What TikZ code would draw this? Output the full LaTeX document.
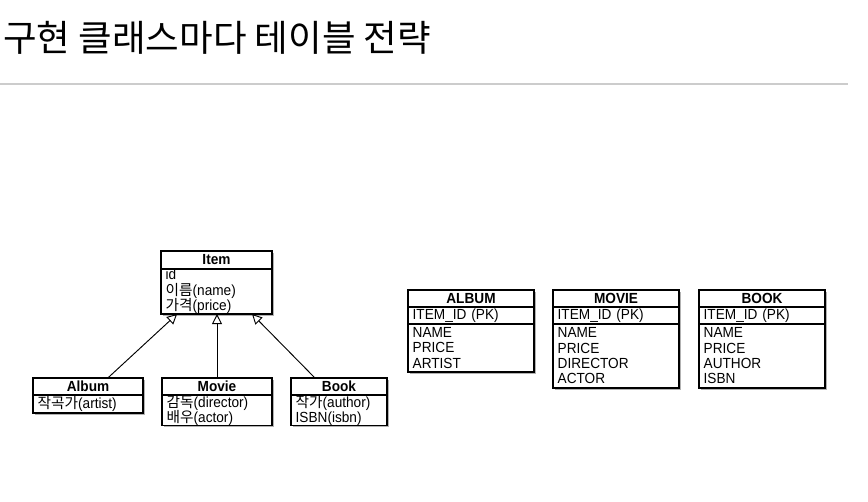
\documentclass[tikz,border=0pt]{standalone}
\usepackage{fontspec}
\setmainfont{Liberation Sans}[FakeStretch=0.93]
\newfontfamily\kr{Noto Sans CJK KR}
\usetikzlibrary{positioning,shadows,arrows.meta,calc}

\tikzset{
  boxshadow/.style={drop shadow={shadow xshift=1.2pt, shadow yshift=-1.2pt, fill=black, opacity=0.3}},
  boxhead/.style={draw, fill=white, line width=0.9pt, outer sep=0pt, inner xsep=3.5pt, inner ysep=0pt,
    align=center, minimum height=12.75pt, font=\bfseries\fontsize{11pt}{11.5pt}\selectfont, boxshadow},
  boxbody/.style={draw, fill=white, line width=0.9pt, outer sep=0pt, inner xsep=3.5pt, inner ysep=0pt,
    align=left, font=\fontsize{11pt}{11.5pt}\selectfont, boxshadow},
  isa/.style={line width=0.7pt, -{Triangle[open, length=7.5pt, width=7.5pt]}}
}

\begin{document}
\begin{tikzpicture}[x=0.75pt, y=-0.75pt]
  \useasboundingbox (0,0) rectangle (868,501);

  % Drawing title and rule
  \node[anchor=base west, inner sep=0pt, font=\kr\fontsize{27.4pt}{32pt}\selectfont] (title) at (3,51) {구현 클래스마다 테이블 전략};
  \draw[line width=1.5pt, black!20] (0,84) -- (848,84);

  % Drawing class Item
  \node[boxhead, text width=76.25pt, minimum height=13.5pt, anchor=north west] (item) at (161,251) {Item};
  \node[boxbody, text width=76.25pt, minimum height=33.75pt, below=0pt of item] (item-body) {id\\{\kr 이름}(name)\\{\kr 가격}(price)};

  % Drawing subclasses
  \node[boxhead, text width=75.5pt, anchor=north west] (album) at (33,378) {Album};
  \node[boxbody, text width=75.5pt, minimum height=13.5pt, below=0pt of album] (album-body) {{\kr 작곡가}(artist)};

  \node[boxhead, text width=75.5pt, anchor=north west] (movie) at (162,378) {Movie};
  \node[boxbody, text width=75.5pt, minimum height=22.5pt, below=0pt of movie] (movie-body) {{\kr 감독}(director)\\{\kr 배우}(actor)};

  \node[boxhead, text width=65pt, anchor=north west] (book) at (291,378) {Book};
  \node[boxbody, text width=65pt, minimum height=22.5pt, below=0pt of book] (book-body) {{\kr 작가}(author)\\ISBN(isbn)};

  % Drawing inheritance arrows
  \draw[isa] ($(album.north west)!0.68!(album.north east)$) -- ($(item-body.south west)!0.145!(item-body.south east)$);
  \draw[isa] (movie.north) -- (movie.north |- item-body.south);
  \draw[isa] ($(book.north west)!0.25!(book.north east)$) -- ($(item-body.south west)!0.82!(item-body.south east)$);

  % Drawing table ALBUM
  \node[boxhead, text width=87.5pt, anchor=north west] (album-table) at (408,290) {ALBUM};
  \node[boxbody, text width=87.5pt, minimum height=12.75pt, below=0pt of album-table] (album-pk) {ITEM\_ID (PK)};
  \node[boxbody, text width=87.5pt, minimum height=36pt, below=0pt of album-pk] (album-cols) {NAME\\PRICE\\ARTIST};

  % Drawing table MOVIE
  \node[boxhead, text width=87.5pt, anchor=north west] (movie-table) at (553,290) {MOVIE};
  \node[boxbody, text width=87.5pt, minimum height=12.75pt, below=0pt of movie-table] (movie-pk) {ITEM\_ID (PK)};
  \node[boxbody, text width=87.5pt, minimum height=48pt, below=0pt of movie-pk] (movie-cols) {NAME\\PRICE\\DIRECTOR\\ACTOR};

  % Drawing table BOOK
  \node[boxhead, text width=87.5pt, anchor=north west] (book-table) at (699,290) {BOOK};
  \node[boxbody, text width=87.5pt, minimum height=12.75pt, below=0pt of book-table] (book-pk) {ITEM\_ID (PK)};
  \node[boxbody, text width=87.5pt, minimum height=48pt, below=0pt of book-pk] (book-cols) {NAME\\PRICE\\AUTHOR\\ISBN};
\end{tikzpicture}
\end{document}
